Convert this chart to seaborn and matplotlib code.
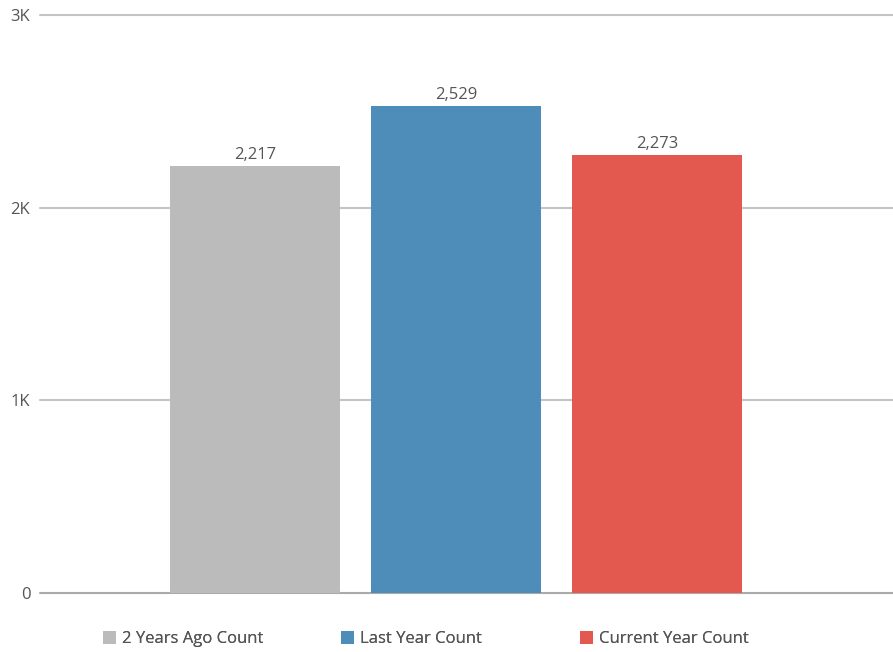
import matplotlib
matplotlib.use("Agg")
import matplotlib.pyplot as plt
import seaborn as sns
import pandas as pd
from matplotlib.patches import Patch

categories = ["2 Years Ago Count", "Last Year Count", "Current Year Count"]
values = [2217, 2529, 2273]
colors = ["#BBBBBB", "#4E8DB9", "#E4594F"]
yticks = [0, 1000, 2000, 3000]
ytick_labels = ["0", "1K", "2K", "3K"]

sns.set_style("white")
plt.rcParams['font.family'] = ['Open Sans', 'DejaVu Sans']

df = pd.DataFrame({"cat": categories, "val": values})

fig = plt.figure(figsize=(8.93, 6.52), dpi=100)
ax = fig.add_axes([40/893, 59/652, 853/893, 578/652])

sns.barplot(data=df, x="cat", y="val", hue="cat", palette=colors,
            width=0.846, ax=ax, legend=False, saturation=1,
            edgecolor="none", zorder=3)

ax.set_xlim(-1.07, 3.174)
ax.set_ylim(0, 3000)
ax.set_yticks(yticks)
ax.set_yticklabels(ytick_labels)
ax.set_xticks([])
ax.set_xlabel("")
ax.set_ylabel("")
for s in ax.spines.values():
    s.set_visible(False)
for t in yticks:
    ax.axhline(t, color="#AAAAAA" if t == 0 else "#C4C4C4", lw=1.5, zorder=1, clip_on=False)
ax.tick_params(axis="y", length=0, pad=7, labelsize=12, labelcolor="#555555")

for i, v in enumerate(values):
    ax.text(i, v + 15, f"{v:,}", ha="center", va="bottom", fontsize=12, color="#555555")

legend_x = [103, 341, 580]
for lx, c, lab in zip(legend_x, colors, categories):
    leg = fig.legend([Patch(facecolor=c, edgecolor="none")], [lab], loc="center left",
                     bbox_to_anchor=(lx/893, 13/652), frameon=False, fontsize=12,
                     labelcolor="#555555", handlelength=0.8, handleheight=0.8,
                     handletextpad=0.35, borderpad=0, borderaxespad=0)
    fig.add_artist(leg)

fig.savefig("out.png", dpi=100)
